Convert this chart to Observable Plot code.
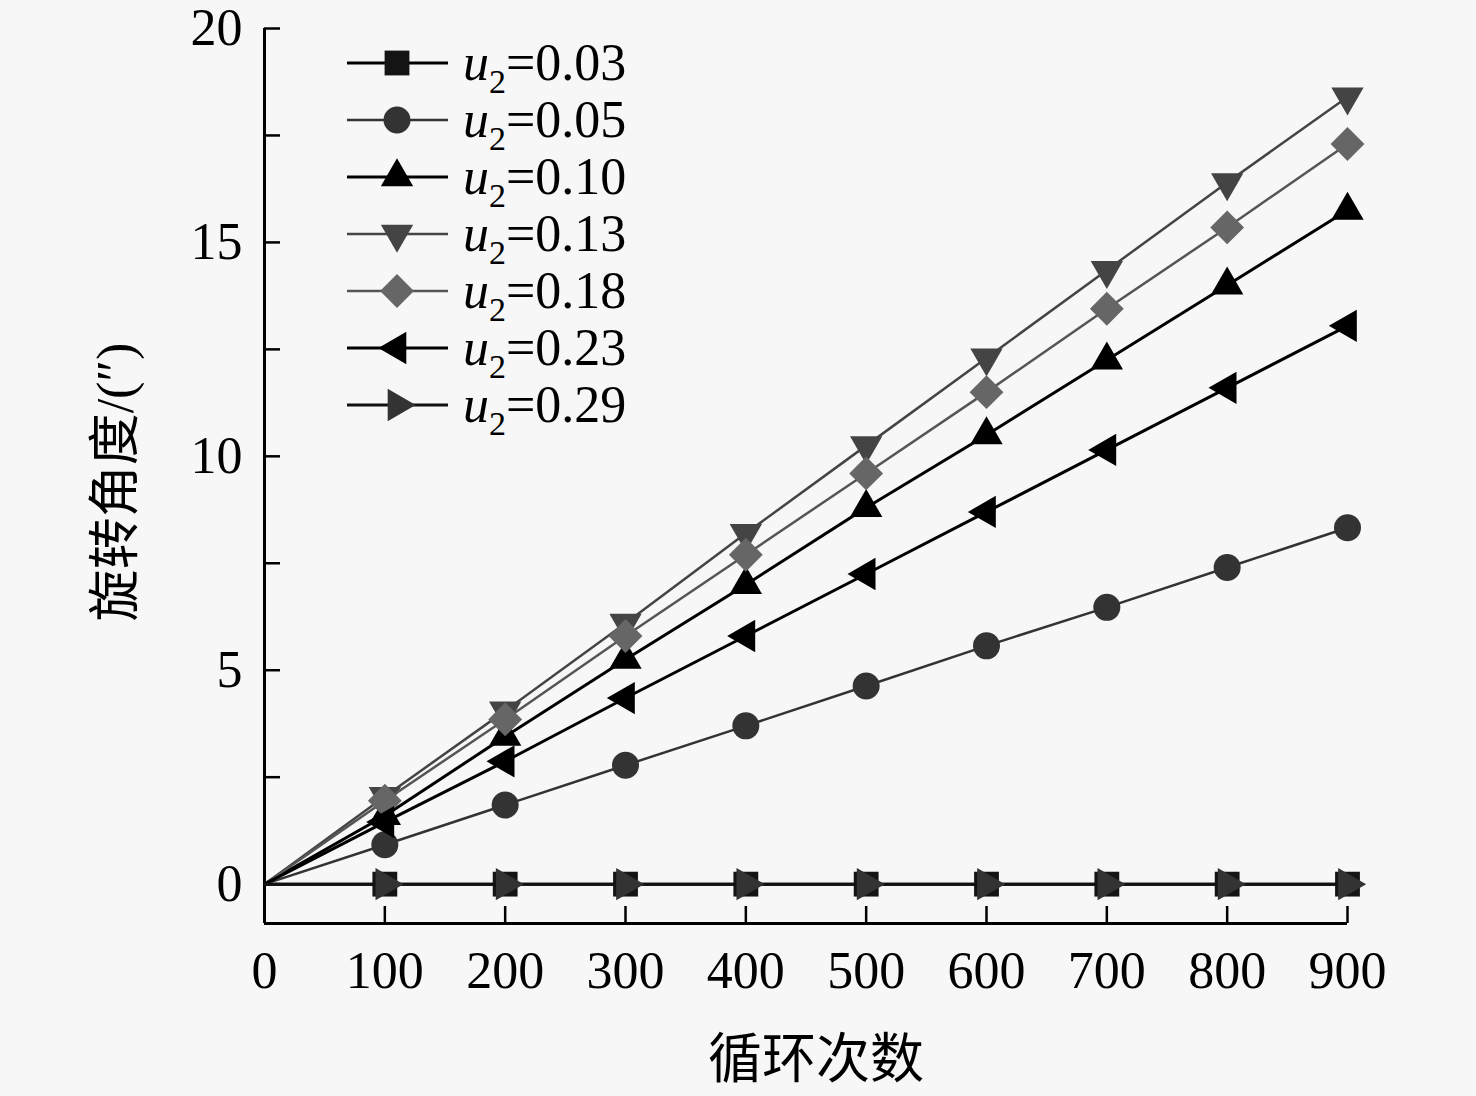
<!DOCTYPE html>
<html><head><meta charset="utf-8">
<script src="https://cdn.jsdelivr.net/npm/d3@7"></script>
<script src="https://cdn.jsdelivr.net/npm/@observablehq/plot@0.6"></script>
<style>
html,body{margin:0;padding:0;background:#f7f7f7;}
#chart{position:relative;width:1476px;height:1096px;}
</style></head><body><div id="chart"></div>
<script>
const cycles = [0, 100, 200, 300, 400, 500, 600, 700, 800, 900];
const u003 = [0, 0, 0, 0, 0, 0, 0, 0, 0, 0];
const u005 = [0, 0.92, 1.85, 2.78, 3.7, 4.63, 5.57, 6.47, 7.4, 8.33];
const u010 = [0, 1.6, 3.45, 5.25, 7.0, 8.8, 10.5, 12.25, 14.0, 15.75];
const u013 = [0, 2.05, 4.05, 6.1, 8.2, 10.25, 12.3, 14.35, 16.4, 18.4];
const u018 = [0, 1.95, 3.85, 5.8, 7.7, 9.6, 11.5, 13.45, 15.35, 17.3];
const u023 = [0, 1.45, 2.87, 4.35, 5.8, 7.25, 8.7, 10.15, 11.6, 13.05];
const u029 = [0, 0, 0, 0, 0, 0, 0, 0, 0, 0];
const seriesNames = ["0.03", "0.05", "0.10", "0.13", "0.18", "0.23", "0.29"];
const seriesValues = [u003, u005, u010, u013, u018, u023, u029];
const xTicks = [0, 100, 200, 300, 400, 500, 600, 700, 800, 900];
const yTicks = [0, 5, 10, 15, 20];
const yMinorTicks = [2.5, 7.5, 12.5, 17.5];
const xLabel = "循环次数";
const yLabel = "旋转角度/(″)";
const yMin = -0.92, yMax = 20;

const styles = [
  {symbol: "square",   d3sym: d3.symbolSquare,   rotate: 0,   r: 14,   fill: "#141414", line: "#000", lw: 3},
  {symbol: "circle",   d3sym: d3.symbolCircle,   rotate: 0,   r: 13.5, fill: "#333",    line: "#333", lw: 2.5},
  {symbol: "triangle", d3sym: d3.symbolTriangle, rotate: 0,   r: 12,   fill: "#000",    line: "#000", lw: 3},
  {symbol: "triangle", d3sym: d3.symbolTriangle, rotate: 180, r: 12,   fill: "#444",    line: "#444", lw: 2.5},
  {symbol: "square",   d3sym: d3.symbolSquare,   rotate: 45,  r: 13.5, fill: "#666",    line: "#555", lw: 2.5},
  {symbol: "triangle", d3sym: d3.symbolTriangle, rotate: -90, r: 12,   fill: "#000",    line: "#000", lw: 3},
  {symbol: "triangle", d3sym: d3.symbolTriangle, rotate: 90,  r: 12,   fill: "#333",    line: "#111", lw: 3}
];

const W = 1476, H = 1096, mL = 264, mR = 129, mT = 28, mB = 173;
const frameW = W - mL - mR, frameH = H - mT - mB;

const marks = [];
seriesValues.forEach((vals, i) => {
  const s = styles[i];
  const data = cycles.map((c, j) => ({x: c, y: vals[j]}));
  marks.push(Plot.line(data, {x: "x", y: "y", stroke: s.line, strokeWidth: s.lw}));
  marks.push(Plot.dot(data.filter(d => d.x > 0), {x: "x", y: "y", symbol: s.symbol, r: s.r, fill: s.fill, rotate: s.rotate}));
});

const plot = Plot.plot({
  width: W, height: H,
  marginLeft: mL, marginRight: mR, marginTop: mT, marginBottom: mB,
  x: {domain: [0, 900]},
  y: {domain: [yMin, yMax]},
  style: {fontFamily: "'Liberation Serif','Noto Sans CJK SC',serif", background: "#f7f7f7", color: "#000", overflow: "visible"},
  marks: [
    Plot.ruleX([0], {stroke: "#000", strokeWidth: 3}),
    Plot.ruleY([yMin], {stroke: "#000", strokeWidth: 3}),
    Plot.tickX(xTicks, {x: d => d, stroke: "#000", strokeWidth: 2.5, insetTop: frameH - 17}),
    Plot.tickY(yTicks.concat(yMinorTicks), {y: d => d, stroke: "#000", strokeWidth: 2.5, insetRight: frameW - 16}),
    Plot.axisX({ticks: xTicks, tickSize: 0, tickPadding: 28, fontSize: 52, label: null, tickFormat: d => String(d)}),
    Plot.axisY({ticks: yTicks, tickSize: 0, tickPadding: 22, fontSize: 52, label: null, tickFormat: d => String(d)}),
    Plot.text([yLabel], {text: d => d, frameAnchor: "left", textAnchor: "middle", lineAnchor: "middle", rotate: -90, dx: -148, dy: 6, fontSize: 52}),
    Plot.text([xLabel], {text: d => d, frameAnchor: "bottom", textAnchor: "middle", lineAnchor: "middle", dx: 10, dy: 137, fontSize: 54}),
    ...marks
  ]
});

document.getElementById("chart").appendChild(plot);

// Legend
const svg = d3.select(plot);
const leg = svg.append("g").attr("text-anchor", "start");
seriesNames.forEach((name, i) => {
  const s = styles[i];
  const cy = 63 + i * 57;
  leg.append("line").attr("x1", 347).attr("x2", 448).attr("y1", cy).attr("y2", cy)
    .attr("stroke", s.line).attr("stroke-width", s.lw);
  leg.append("path").attr("d", d3.symbol(s.d3sym, s.r * s.r * Math.PI)())
    .attr("transform", `translate(397,${cy}) rotate(${s.rotate})`).attr("fill", s.fill);
  const t = leg.append("text").attr("x", 463).attr("y", cy + 17).attr("font-size", 52)
    .attr("text-anchor", "start")
    .attr("font-family", "'Liberation Serif',serif").attr("fill", "#000");
  t.append("tspan").attr("font-style", "italic").text("u");
  t.append("tspan").attr("font-size", 34).attr("dy", 13).text("2");
  t.append("tspan").attr("dy", -13).text("=" + name);
});
</script></body></html>
